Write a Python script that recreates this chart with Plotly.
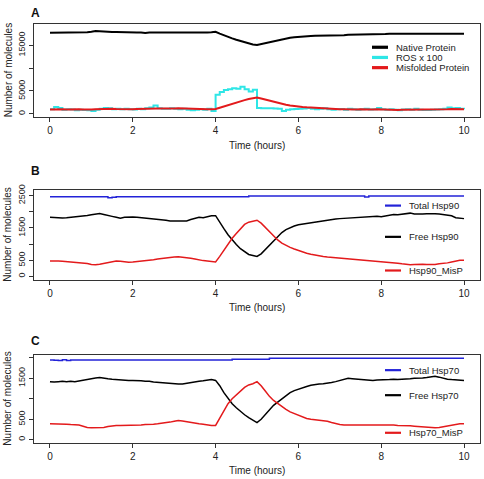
import numpy as np
import plotly.graph_objects as go

# ---------------- data ----------------
time_h = [round(i * 0.1, 1) for i in range(101)]

native_protein = [
    17750, 17750, 17760, 17750, 17780, 17800, 17700, 17750, 17800, 17850,
    17950, 18100, 18050, 17950, 17950, 17900, 17900, 17850, 17850, 17850,
    17850, 17800, 17800, 17700, 17800, 17800, 17750, 17750, 17700, 17650,
    17650, 17650, 17700, 17700, 17650, 17700, 17750, 17750, 17800, 17850,
    17950, 17550, 17150, 16800, 16500, 16200, 15900, 15600, 15300, 15150,
    15050, 15250, 15550, 15800, 16000, 16200, 16400, 16550, 16650, 16750,
    16850, 16900, 16950, 17000, 17050, 17050, 17100, 17100, 17150, 17150,
    17200, 17200, 17300, 17300, 17350, 17350, 17350, 17400, 17400, 17450,
    17450, 17450, 17500, 17500, 17500, 17520, 17520, 17540, 17550, 17550,
    17550, 17550, 17560, 17550, 17550, 17540, 17530, 17520, 17510, 17500,
    17500]

ros_x100 = [
    1000, 1500, 1300, 900, 1000, 950, 800, 900, 850, 800,
    650, 900, 1100, 1300, 1200, 1000, 1100, 1000, 1100, 1000,
    950, 1100, 1000, 1200, 1400, 1800, 1200, 1100, 1100, 1200,
    1100, 1000, 1100, 900, 800, 900, 1000, 900, 1100, 600,
    4200, 4800, 5200, 5400, 5600, 5500, 5900, 5400, 4900, 5250,
    1300, 1250, 1200, 1200, 1150, 1100, 650, 900, 1000, 1050,
    1100, 1150, 1300, 1100, 1000, 1100, 1200, 1000, 900, 1000,
    1050, 900, 1100, 1000, 900, 1000, 1100, 950, 1000, 1300,
    1000, 900, 1000, 900, 800, 950, 1000, 900, 1100, 900,
    850, 850, 900, 950, 1000, 1100, 1400, 1200, 1300, 1100,
    1000]

misfolded_protein = [
    950, 1000, 1050, 1000, 950, 1000, 1050, 1000, 950, 900,
    950, 1000, 1050, 1000, 1050, 1100, 1050, 1000, 1050, 1000,
    1000, 1050, 1100, 1050, 1100, 1100, 1150, 1150, 1100, 1150,
    1150, 1200, 1150, 1100, 1150, 1050, 1000, 1050, 1000, 1000,
    1050, 1350, 1650, 1950, 2250, 2500, 2750, 3000, 3250, 3450,
    3550, 3350, 3100, 2850, 2600, 2400, 2200, 2000, 1850, 1700,
    1600, 1500, 1420, 1350, 1300, 1250, 1200, 1150, 1100, 1050,
    1000, 1000, 950, 1000, 950, 1000, 950, 900, 950, 1000,
    950, 950, 900, 900, 850, 900, 900, 950, 900, 850,
    850, 850, 850, 850, 850, 900, 1000, 1050, 1000, 1050,
    1000]

total_hsp90 = [2470] * 14 + [2440, 2450] + [2470] * 32 + [2490] * 28 + [2460] + [2490] * 24

free_hsp90 = [
    1830, 1820, 1800, 1810, 1820, 1830, 1840, 1850, 1870, 1890,
    1910, 1940, 1950, 1920, 1880, 1860, 1830, 1800, 1830, 1840,
    1840, 1830, 1820, 1810, 1800, 1780, 1760, 1750, 1740, 1720,
    1720, 1710, 1700, 1720, 1760, 1800, 1830, 1820, 1850, 1880,
    1880, 1700, 1480, 1290, 1130, 990, 860, 760, 680, 650,
    620, 700, 830, 980, 1120, 1250, 1360, 1450, 1510, 1560,
    1600, 1620, 1650, 1680, 1700, 1710, 1720, 1740, 1760, 1780,
    1790, 1800, 1810, 1820, 1830, 1840, 1850, 1860, 1850, 1860,
    1850, 1880, 1910, 1920, 1910, 1920, 1950, 1960, 1930, 1920,
    1930, 1940, 1950, 1940, 1930, 1920, 1900, 1880, 1820, 1800,
    1790]

hsp90_misp = [
    480, 490, 480, 470, 460, 450, 440, 440, 420, 400,
    370, 360, 380, 410, 440, 470, 480, 470, 450, 440,
    450, 460, 480, 490, 500, 520, 540, 560, 580, 590,
    600, 610, 600, 580, 560, 540, 510, 490, 480, 460,
    450, 620, 820, 1010, 1180, 1330, 1480, 1610, 1680, 1720,
    1740, 1650, 1520, 1380, 1240, 1130, 1030, 960, 900, 850,
    800, 760, 720, 690, 660, 640, 620, 600, 590, 580,
    570, 550, 530, 520, 510, 500, 490, 480, 480, 470,
    460, 450, 430, 420, 410, 390, 370, 360, 370, 380,
    380, 370, 360, 370, 390, 400, 420, 450, 480, 500,
    500]

total_hsp70 = [1950, 1945, 1935, 1955, 1940] + [1950] * 39 + [1965] * 9 + [1990] * 48

free_hsp70 = [
    1420, 1410, 1420, 1430, 1420, 1430, 1420, 1440, 1450, 1480,
    1500, 1510, 1520, 1500, 1490, 1480, 1470, 1460, 1460, 1450,
    1450, 1450, 1440, 1430, 1430, 1410, 1400, 1400, 1390, 1380,
    1370, 1360, 1360, 1380, 1400, 1420, 1430, 1440, 1450, 1470,
    1450, 1320, 1150, 1000, 880, 780, 690, 610, 540, 480,
    420, 500, 620, 740, 840, 920, 1000, 1080, 1150, 1200,
    1240, 1270, 1300, 1330, 1350, 1360, 1370, 1380, 1400, 1420,
    1450, 1480, 1500, 1490, 1480, 1470, 1460, 1460, 1450, 1460,
    1460, 1470, 1470, 1480, 1470, 1480, 1480, 1490, 1500, 1500,
    1510, 1520, 1540, 1550, 1530, 1500, 1480, 1470, 1460, 1450,
    1450]

hsp70_misp = [
    390, 390, 380, 380, 380, 370, 370, 360, 330, 300,
    290, 290, 300, 300, 320, 340, 350, 350, 350, 360,
    360, 360, 360, 370, 370, 380, 390, 400, 410, 430,
    450, 470, 460, 440, 420, 400, 390, 380, 360, 350,
    350, 520, 720, 880, 1000, 1100, 1200, 1280, 1340, 1370,
    1420, 1320, 1190, 1060, 960, 880, 810, 740, 680, 640,
    600, 560, 520, 500, 490, 480, 470, 450, 420, 390,
    370, 360, 360, 370, 370, 370, 370, 370, 360, 360,
    360, 360, 360, 360, 350, 350, 340, 340, 330, 320,
    320, 300, 290, 290, 300, 320, 340, 360, 380, 390,
    390]

x_ticks = [0, 2, 4, 6, 8, 10]
yticks_a = [0, 5000, 10000, 15000]
ytext_a = ["0", "5000", "", "15000"]
yticks_b = [0, 500, 1000, 1500, 2000, 2500]
ytext_b = ["0", "500", "", "1500", "", "2500"]
yticks_c = [0, 500, 1000, 1500, 2000]
ytext_c = ["0", "500", "", "1500", ""]

panel_letters = ["A", "B", "C"]
x_title = "Time (hours)"
y_title = "Number of molecules"

# ---------------- styling / layout ----------------
W, H = 484, 479
FONT = "Liberation Sans, Arial, sans-serif"
BLACK = "#000000"
CYAN = "#2EE6E6"
RED = "#E31A1C"
BLUE = "#2323D8"

def px_x(x):
    return x / W

def px_y(y):
    return 1 - y / H

panels = [
    dict(top=19.3, bottom=112.7, yr=[-584, 19623], tv=yticks_a, tt=ytext_a),
    dict(top=186.5, bottom=277.7, yr=[-104, 2690], tv=yticks_b, tt=ytext_b),
    dict(top=353.3, bottom=442.3, yr=[-73, 2081], tv=yticks_c, tt=ytext_c),
]
x_dom = [px_x(34), px_x(480)]

series = [
    (0, "Native Protein", native_protein, BLACK, 2.0, "linear"),
    (0, "ROS x 100", ros_x100, CYAN, 2.0, "hv"),
    (0, "Misfolded Protein", misfolded_protein, RED, 2.0, "linear"),
    (1, "Total Hsp90", total_hsp90, BLUE, 1.5, "hv"),
    (1, "Free Hsp90", free_hsp90, BLACK, 1.5, "linear"),
    (1, "Hsp90_MisP", hsp90_misp, RED, 1.5, "linear"),
    (2, "Total Hsp70", total_hsp70, BLUE, 1.5, "hv"),
    (2, "Free Hsp70", free_hsp70, BLACK, 1.5, "linear"),
    (2, "Hsp70_MisP", hsp70_misp, RED, 1.5, "linear"),
]

fig = go.Figure()
for pi, name, vals, col, w, shp in series:
    sfx = "" if pi == 0 else str(pi + 1)
    fig.add_trace(go.Scatter(
        x=time_h, y=vals, name=name, mode="lines",
        line=dict(color=col, width=w, shape=shp),
        xaxis="x" + sfx, yaxis="y" + sfx, showlegend=False,
    ))

layout = dict(
    width=W, height=H,
    margin=dict(l=0, r=0, t=0, b=0),
    paper_bgcolor="white", plot_bgcolor="white",
    font=dict(family=FONT, size=10, color="#222"),
    showlegend=False,
)

annotations = []
shapes = []
legend_geo = [
    dict(x0=372, x1=388, tx=394, rows=[42.7, 53.0, 63.3], lw=3.2),
    dict(x0=385, x1=401, tx=407, rows=[202.7, 234.3, 268.3], lw=2.2),
    dict(x0=385, x1=401, tx=407, rows=[369.0, 394.3, 432.3], lw=2.2),
]
letter_y = [8.5, 167.5, 340.0]
xtitle_y = [141.5, 305.5, 470.0]

for i, p in enumerate(panels):
    sfx = "" if i == 0 else str(i + 1)
    ydom = [px_y(p["bottom"]), px_y(p["top"])]
    layout["xaxis" + sfx] = dict(
        domain=x_dom, anchor="y" + sfx, range=[-0.386, 10.386],
        tickvals=x_ticks, ticktext=[str(t) for t in x_ticks],
        ticks="outside", ticklen=4, tickcolor="#333", tickwidth=1,
        showline=True, mirror=True, linecolor="#333", linewidth=1,
        showgrid=False, zeroline=False,
        tickfont=dict(size=10, family=FONT, color="#222"),
    )
    layout["yaxis" + sfx] = dict(
        domain=ydom, anchor="x" + sfx, range=p["yr"],
        tickvals=p["tv"], ticktext=p["tt"], tickangle=-90,
        ticks="outside", ticklen=4, tickcolor="#333", tickwidth=1,
        showline=True, mirror=True, linecolor="#333", linewidth=1,
        showgrid=False, zeroline=False,
        tickfont=dict(size=9, family=FONT, color="#222"),
    )
    annotations.append(dict(
        text="<b>%s</b>" % panel_letters[i], xref="paper", yref="paper",
        x=px_x(29), y=px_y(letter_y[i]), xanchor="left", yanchor="middle",
        showarrow=False, font=dict(size=12, family=FONT, color="#111"),
    ))
    annotations.append(dict(
        text=x_title, xref="paper", yref="paper",
        x=px_x(257), y=px_y(xtitle_y[i]), xanchor="center", yanchor="middle",
        showarrow=False, font=dict(size=10, family=FONT, color="#222"),
    ))
    annotations.append(dict(
        text=y_title, xref="paper", yref="paper", textangle=-90,
        x=px_x(8), y=(ydom[0] + ydom[1]) / 2, xanchor="center", yanchor="middle",
        showarrow=False, font=dict(size=10, family=FONT, color="#222"),
    ))
    g = legend_geo[i]
    items = [s for s in series if s[0] == i]
    for (pi, name, vals, col, w, shp), ry in zip(items, g["rows"]):
        shapes.append(dict(
            type="line", xref="paper", yref="paper",
            x0=px_x(g["x0"]), x1=px_x(g["x1"]), y0=px_y(ry), y1=px_y(ry),
            line=dict(color=col, width=g["lw"]),
        ))
        annotations.append(dict(
            text=name, xref="paper", yref="paper",
            x=px_x(g["tx"]), y=px_y(ry), xanchor="left", yanchor="middle",
            showarrow=False, font=dict(size=9.5, family=FONT, color="#222"),
        ))

layout["annotations"] = annotations
layout["shapes"] = shapes
fig.update_layout(**layout)
# remove the browser's default 8px body margin so the figure fills the window
fig.write_html(
    "out.html",
    config={"displayModeBar": False},
    post_script="document.body.style.margin='0';document.body.style.overflow='hidden';",
)
